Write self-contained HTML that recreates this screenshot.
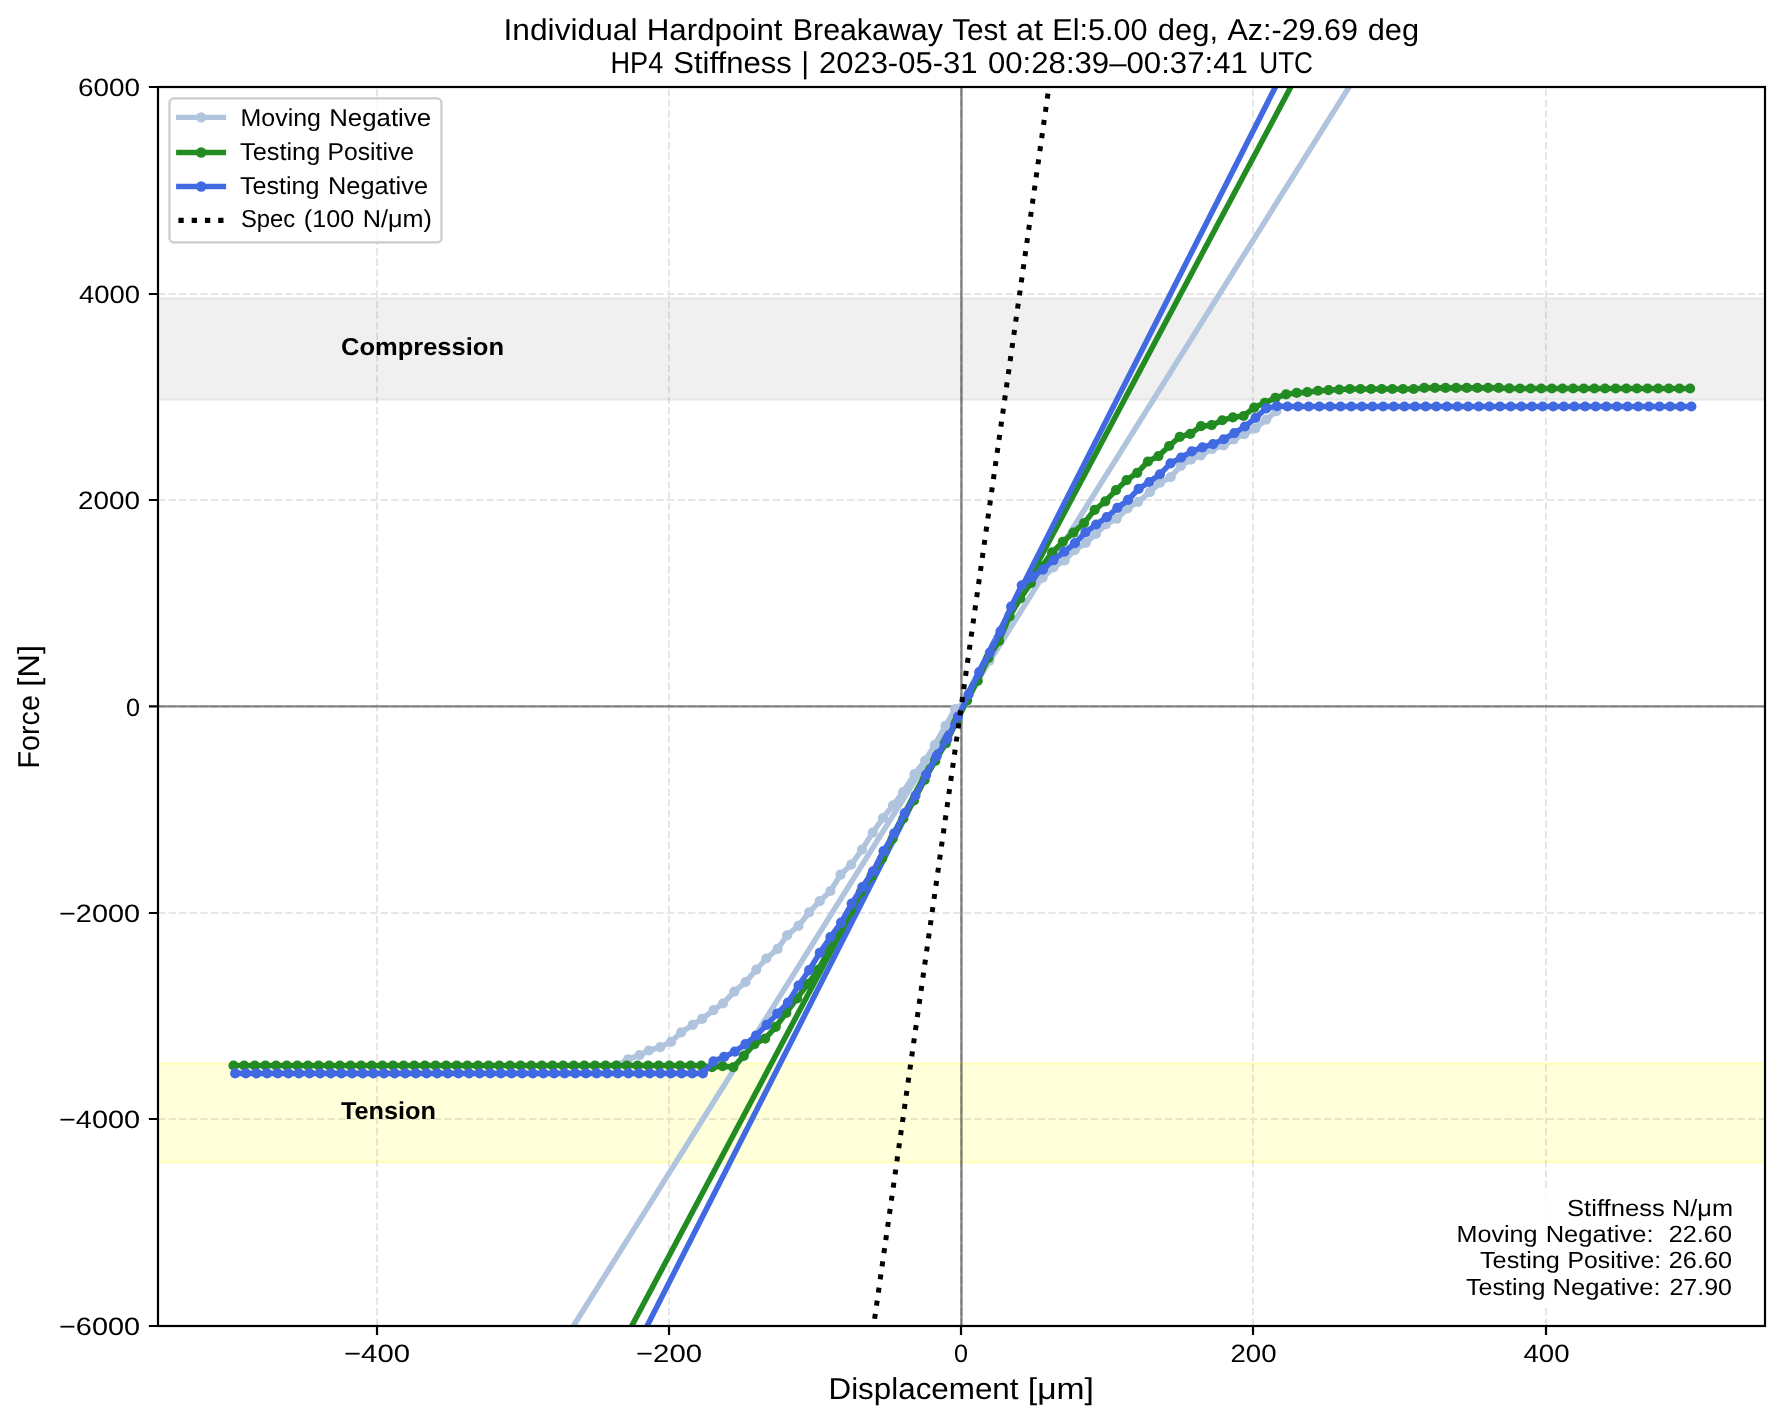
<!DOCTYPE html><html><head><meta charset="utf-8"><style>html,body{margin:0;padding:0;background:#fff;}svg{display:block;will-change:transform;}text{font-family:"Liberation Sans",sans-serif;fill:#000;white-space:pre;text-rendering:geometricPrecision;}</style></head><body>
<svg width="1782" height="1423" viewBox="0 0 1782 1423">
<rect x="0" y="0" width="1782" height="1423" fill="#fff"/>
<defs><clipPath id="ax"><rect x="158" y="87" width="1607" height="1239"/></clipPath></defs>
<g clip-path="url(#ax)">
<rect x="158" y="297.4" width="1607" height="103" fill="#f0f0f0"/>
<rect x="158" y="297.8" width="1607" height="2" fill="#e7e7e7"/>
<rect x="158" y="398.2" width="1607" height="2.2" fill="#e7e7e7"/>
<rect x="158" y="1062.2" width="1607" height="101.2" fill="#ffffd9"/>
<rect x="158" y="1062.6" width="1607" height="2.2" fill="#ffffbc"/>
<rect x="158" y="1160.8" width="1607" height="2.4" fill="#ffffbc"/>
<path d="M377 1326V87 M669 1326V87 M961 1326V87 M1253 1326V87 M1546 1326V87 M158 1326H1765 M158 1119H1765 M158 913H1765 M158 706.4H1765 M158 500H1765 M158 294H1765 M158 87H1765" fill="none" stroke="#808080" stroke-opacity="0.2" stroke-width="2" stroke-dasharray="7.4 3.2"/>
<path d="M158 706.4H1765M961.45 87V1326" fill="none" stroke="#000" stroke-opacity="0.47" stroke-width="2.4"/>
<path d="M560.47 1346.65L1362.03 66.35" fill="none" stroke="#b0c4de" stroke-width="5.56"/>
<path d="M620.74 1346.65L1301.76 66.35" fill="none" stroke="#228b22" stroke-width="5.56"/>
<path d="M636.61 1346.65L1285.89 66.35" fill="none" stroke="#4169e1" stroke-width="5.56"/>
<polyline points="617.4,1065.5 628,1059.3 639.5,1055.2 648.9,1050.5 660.3,1047.1 671.1,1041.8 681.2,1032.3 692.7,1024.9 702.1,1018.9 713.5,1010.1 723,1003.5 734.3,991.7 745.5,982.1 756.2,969.7 766.3,958.5 777.6,948.9 787.1,935.4 798.4,925.9 809.1,912.4 819.7,901.2 830.4,891 840.5,874.7 851.2,864.6 862,849.6 872.7,832.7 883,818 893,805.3 903.1,792.1 914.5,774.2 925.2,760.5 934.8,744.9 945.5,725.8 955.1,709.1 966,702.16 976.6,681.25 989.4,660.7 997.8,640.87 1009,615.7 1020,594.83 1031,581.51 1042.6,577.7 1053.3,567.5 1064.7,560.3 1074.7,550.2 1085.7,542.9 1095.9,533.9 1106,524.3 1116.7,518.7 1127.4,508.5 1138.1,501.8 1149.9,492.2 1160,482.7 1170.7,477.1 1180.8,465.8 1190.9,459.6 1200.9,455.3 1212.2,448.8 1223.6,445.5 1233.8,439.3 1244.3,434.2 1255.3,428.4 1266.2,419.6 1276.4,411.2" fill="none" stroke="#b0c4de" stroke-width="5.56" stroke-linejoin="round"/>
<g fill="#b0c4de"><circle cx="617.4" cy="1065.5" r="5.1"/><circle cx="628" cy="1059.3" r="5.1"/><circle cx="639.5" cy="1055.2" r="5.1"/><circle cx="648.9" cy="1050.5" r="5.1"/><circle cx="660.3" cy="1047.1" r="5.1"/><circle cx="671.1" cy="1041.8" r="5.1"/><circle cx="681.2" cy="1032.3" r="5.1"/><circle cx="692.7" cy="1024.9" r="5.1"/><circle cx="702.1" cy="1018.9" r="5.1"/><circle cx="713.5" cy="1010.1" r="5.1"/><circle cx="723" cy="1003.5" r="5.1"/><circle cx="734.3" cy="991.7" r="5.1"/><circle cx="745.5" cy="982.1" r="5.1"/><circle cx="756.2" cy="969.7" r="5.1"/><circle cx="766.3" cy="958.5" r="5.1"/><circle cx="777.6" cy="948.9" r="5.1"/><circle cx="787.1" cy="935.4" r="5.1"/><circle cx="798.4" cy="925.9" r="5.1"/><circle cx="809.1" cy="912.4" r="5.1"/><circle cx="819.7" cy="901.2" r="5.1"/><circle cx="830.4" cy="891" r="5.1"/><circle cx="840.5" cy="874.7" r="5.1"/><circle cx="851.2" cy="864.6" r="5.1"/><circle cx="862" cy="849.6" r="5.1"/><circle cx="872.7" cy="832.7" r="5.1"/><circle cx="883" cy="818" r="5.1"/><circle cx="893" cy="805.3" r="5.1"/><circle cx="903.1" cy="792.1" r="5.1"/><circle cx="914.5" cy="774.2" r="5.1"/><circle cx="925.2" cy="760.5" r="5.1"/><circle cx="934.8" cy="744.9" r="5.1"/><circle cx="945.5" cy="725.8" r="5.1"/><circle cx="955.1" cy="709.1" r="5.1"/><circle cx="966" cy="702.16" r="5.1"/><circle cx="976.6" cy="681.25" r="5.1"/><circle cx="989.4" cy="660.7" r="5.1"/><circle cx="997.8" cy="640.87" r="5.1"/><circle cx="1009" cy="615.7" r="5.1"/><circle cx="1020" cy="594.83" r="5.1"/><circle cx="1031" cy="581.51" r="5.1"/><circle cx="1042.6" cy="577.7" r="5.1"/><circle cx="1053.3" cy="567.5" r="5.1"/><circle cx="1064.7" cy="560.3" r="5.1"/><circle cx="1074.7" cy="550.2" r="5.1"/><circle cx="1085.7" cy="542.9" r="5.1"/><circle cx="1095.9" cy="533.9" r="5.1"/><circle cx="1106" cy="524.3" r="5.1"/><circle cx="1116.7" cy="518.7" r="5.1"/><circle cx="1127.4" cy="508.5" r="5.1"/><circle cx="1138.1" cy="501.8" r="5.1"/><circle cx="1149.9" cy="492.2" r="5.1"/><circle cx="1160" cy="482.7" r="5.1"/><circle cx="1170.7" cy="477.1" r="5.1"/><circle cx="1180.8" cy="465.8" r="5.1"/><circle cx="1190.9" cy="459.6" r="5.1"/><circle cx="1200.9" cy="455.3" r="5.1"/><circle cx="1212.2" cy="448.8" r="5.1"/><circle cx="1223.6" cy="445.5" r="5.1"/><circle cx="1233.8" cy="439.3" r="5.1"/><circle cx="1244.3" cy="434.2" r="5.1"/><circle cx="1255.3" cy="428.4" r="5.1"/><circle cx="1266.2" cy="419.6" r="5.1"/><circle cx="1276.4" cy="411.2" r="5.1"/></g>
<polyline points="233.5,1065.5 244.13,1065.5 254.76,1065.5 265.4,1065.5 276.03,1065.5 286.66,1065.5 297.29,1065.5 307.92,1065.5 318.56,1065.5 329.19,1065.5 339.82,1065.5 350.45,1065.5 361.08,1065.5 371.72,1065.5 382.35,1065.5 392.98,1065.5 403.61,1065.5 414.24,1065.5 424.88,1065.5 435.51,1065.5 446.14,1065.5 456.77,1065.5 467.4,1065.5 478.04,1065.5 488.67,1065.5 499.3,1065.5 509.93,1065.5 520.56,1065.5 531.2,1065.5 541.83,1065.5 552.46,1065.5 563.09,1065.5 573.72,1065.5 584.36,1065.5 594.99,1065.5 605.62,1065.5 616.25,1065.5 626.88,1065.5 637.52,1065.5 648.15,1065.5 658.78,1065.5 669.41,1065.5 680.04,1065.5 690.68,1065.5 701.31,1065.55 711.94,1067.26 722.57,1066.03 733.2,1067.24 743.84,1055.87 754.47,1044.1 765.1,1038.56 775.73,1026.8 786.36,1012.82 797,998.39 807.63,984.16 818.26,969.81 828.89,949.67 839.52,930.68 850.16,911.78 860.79,892.06 871.42,875.88 882.05,858.45 892.68,838.74 903.32,818.51 913.95,800.42 924.58,779.89 935.21,760.94 945.84,743.38 956.48,721.68 967.11,700.28 977.74,680.77 988.37,657.87 999,640.97 1009.64,616.33 1020.27,598.51 1030.9,583.09 1041.53,566.81 1052.16,552.44 1062.8,541.96 1073.43,532.68 1084.06,522.99 1094.69,509.81 1105.32,501.35 1115.96,490.19 1126.59,480.15 1137.22,472.8 1147.85,461.52 1158.48,456.03 1169.12,446 1179.75,436.91 1190.38,433.78 1201.01,426.14 1211.64,425.19 1222.28,420.25 1232.91,417.32 1243.54,416.01 1254.17,407.64 1264.8,402.83 1275.44,397.94 1286.07,394.29 1296.7,392.96 1307.33,392.2 1317.96,390.76 1328.6,390.17 1339.23,389.54 1349.86,389 1360.49,389 1371.12,389 1381.76,389 1392.39,389 1403.02,389 1413.65,389 1424.28,387.9 1434.92,387.9 1445.55,387.9 1456.18,387.9 1466.81,387.9 1477.44,387.9 1488.08,387.9 1498.71,387.9 1509.34,388.46 1519.97,388.5 1530.6,388.5 1541.24,388.5 1551.87,388.5 1562.5,388.5 1573.13,388.5 1583.76,388.5 1594.4,388.5 1605.03,388.5 1615.66,388.5 1626.29,388.5 1636.92,388.5 1647.56,388.5 1658.19,388.5 1668.82,388.5 1679.45,388.5 1690.08,388.5" fill="none" stroke="#228b22" stroke-width="5.56" stroke-linejoin="round"/>
<g fill="#228b22"><circle cx="233.5" cy="1065.5" r="5.1"/><circle cx="244.13" cy="1065.5" r="5.1"/><circle cx="254.76" cy="1065.5" r="5.1"/><circle cx="265.4" cy="1065.5" r="5.1"/><circle cx="276.03" cy="1065.5" r="5.1"/><circle cx="286.66" cy="1065.5" r="5.1"/><circle cx="297.29" cy="1065.5" r="5.1"/><circle cx="307.92" cy="1065.5" r="5.1"/><circle cx="318.56" cy="1065.5" r="5.1"/><circle cx="329.19" cy="1065.5" r="5.1"/><circle cx="339.82" cy="1065.5" r="5.1"/><circle cx="350.45" cy="1065.5" r="5.1"/><circle cx="361.08" cy="1065.5" r="5.1"/><circle cx="371.72" cy="1065.5" r="5.1"/><circle cx="382.35" cy="1065.5" r="5.1"/><circle cx="392.98" cy="1065.5" r="5.1"/><circle cx="403.61" cy="1065.5" r="5.1"/><circle cx="414.24" cy="1065.5" r="5.1"/><circle cx="424.88" cy="1065.5" r="5.1"/><circle cx="435.51" cy="1065.5" r="5.1"/><circle cx="446.14" cy="1065.5" r="5.1"/><circle cx="456.77" cy="1065.5" r="5.1"/><circle cx="467.4" cy="1065.5" r="5.1"/><circle cx="478.04" cy="1065.5" r="5.1"/><circle cx="488.67" cy="1065.5" r="5.1"/><circle cx="499.3" cy="1065.5" r="5.1"/><circle cx="509.93" cy="1065.5" r="5.1"/><circle cx="520.56" cy="1065.5" r="5.1"/><circle cx="531.2" cy="1065.5" r="5.1"/><circle cx="541.83" cy="1065.5" r="5.1"/><circle cx="552.46" cy="1065.5" r="5.1"/><circle cx="563.09" cy="1065.5" r="5.1"/><circle cx="573.72" cy="1065.5" r="5.1"/><circle cx="584.36" cy="1065.5" r="5.1"/><circle cx="594.99" cy="1065.5" r="5.1"/><circle cx="605.62" cy="1065.5" r="5.1"/><circle cx="616.25" cy="1065.5" r="5.1"/><circle cx="626.88" cy="1065.5" r="5.1"/><circle cx="637.52" cy="1065.5" r="5.1"/><circle cx="648.15" cy="1065.5" r="5.1"/><circle cx="658.78" cy="1065.5" r="5.1"/><circle cx="669.41" cy="1065.5" r="5.1"/><circle cx="680.04" cy="1065.5" r="5.1"/><circle cx="690.68" cy="1065.5" r="5.1"/><circle cx="701.31" cy="1065.55" r="5.1"/><circle cx="711.94" cy="1067.26" r="5.1"/><circle cx="722.57" cy="1066.03" r="5.1"/><circle cx="733.2" cy="1067.24" r="5.1"/><circle cx="743.84" cy="1055.87" r="5.1"/><circle cx="754.47" cy="1044.1" r="5.1"/><circle cx="765.1" cy="1038.56" r="5.1"/><circle cx="775.73" cy="1026.8" r="5.1"/><circle cx="786.36" cy="1012.82" r="5.1"/><circle cx="797" cy="998.39" r="5.1"/><circle cx="807.63" cy="984.16" r="5.1"/><circle cx="818.26" cy="969.81" r="5.1"/><circle cx="828.89" cy="949.67" r="5.1"/><circle cx="839.52" cy="930.68" r="5.1"/><circle cx="850.16" cy="911.78" r="5.1"/><circle cx="860.79" cy="892.06" r="5.1"/><circle cx="871.42" cy="875.88" r="5.1"/><circle cx="882.05" cy="858.45" r="5.1"/><circle cx="892.68" cy="838.74" r="5.1"/><circle cx="903.32" cy="818.51" r="5.1"/><circle cx="913.95" cy="800.42" r="5.1"/><circle cx="924.58" cy="779.89" r="5.1"/><circle cx="935.21" cy="760.94" r="5.1"/><circle cx="945.84" cy="743.38" r="5.1"/><circle cx="956.48" cy="721.68" r="5.1"/><circle cx="967.11" cy="700.28" r="5.1"/><circle cx="977.74" cy="680.77" r="5.1"/><circle cx="988.37" cy="657.87" r="5.1"/><circle cx="999" cy="640.97" r="5.1"/><circle cx="1009.64" cy="616.33" r="5.1"/><circle cx="1020.27" cy="598.51" r="5.1"/><circle cx="1030.9" cy="583.09" r="5.1"/><circle cx="1041.53" cy="566.81" r="5.1"/><circle cx="1052.16" cy="552.44" r="5.1"/><circle cx="1062.8" cy="541.96" r="5.1"/><circle cx="1073.43" cy="532.68" r="5.1"/><circle cx="1084.06" cy="522.99" r="5.1"/><circle cx="1094.69" cy="509.81" r="5.1"/><circle cx="1105.32" cy="501.35" r="5.1"/><circle cx="1115.96" cy="490.19" r="5.1"/><circle cx="1126.59" cy="480.15" r="5.1"/><circle cx="1137.22" cy="472.8" r="5.1"/><circle cx="1147.85" cy="461.52" r="5.1"/><circle cx="1158.48" cy="456.03" r="5.1"/><circle cx="1169.12" cy="446" r="5.1"/><circle cx="1179.75" cy="436.91" r="5.1"/><circle cx="1190.38" cy="433.78" r="5.1"/><circle cx="1201.01" cy="426.14" r="5.1"/><circle cx="1211.64" cy="425.19" r="5.1"/><circle cx="1222.28" cy="420.25" r="5.1"/><circle cx="1232.91" cy="417.32" r="5.1"/><circle cx="1243.54" cy="416.01" r="5.1"/><circle cx="1254.17" cy="407.64" r="5.1"/><circle cx="1264.8" cy="402.83" r="5.1"/><circle cx="1275.44" cy="397.94" r="5.1"/><circle cx="1286.07" cy="394.29" r="5.1"/><circle cx="1296.7" cy="392.96" r="5.1"/><circle cx="1307.33" cy="392.2" r="5.1"/><circle cx="1317.96" cy="390.76" r="5.1"/><circle cx="1328.6" cy="390.17" r="5.1"/><circle cx="1339.23" cy="389.54" r="5.1"/><circle cx="1349.86" cy="389" r="5.1"/><circle cx="1360.49" cy="389" r="5.1"/><circle cx="1371.12" cy="389" r="5.1"/><circle cx="1381.76" cy="389" r="5.1"/><circle cx="1392.39" cy="389" r="5.1"/><circle cx="1403.02" cy="389" r="5.1"/><circle cx="1413.65" cy="389" r="5.1"/><circle cx="1424.28" cy="387.9" r="5.1"/><circle cx="1434.92" cy="387.9" r="5.1"/><circle cx="1445.55" cy="387.9" r="5.1"/><circle cx="1456.18" cy="387.9" r="5.1"/><circle cx="1466.81" cy="387.9" r="5.1"/><circle cx="1477.44" cy="387.9" r="5.1"/><circle cx="1488.08" cy="387.9" r="5.1"/><circle cx="1498.71" cy="387.9" r="5.1"/><circle cx="1509.34" cy="388.46" r="5.1"/><circle cx="1519.97" cy="388.5" r="5.1"/><circle cx="1530.6" cy="388.5" r="5.1"/><circle cx="1541.24" cy="388.5" r="5.1"/><circle cx="1551.87" cy="388.5" r="5.1"/><circle cx="1562.5" cy="388.5" r="5.1"/><circle cx="1573.13" cy="388.5" r="5.1"/><circle cx="1583.76" cy="388.5" r="5.1"/><circle cx="1594.4" cy="388.5" r="5.1"/><circle cx="1605.03" cy="388.5" r="5.1"/><circle cx="1615.66" cy="388.5" r="5.1"/><circle cx="1626.29" cy="388.5" r="5.1"/><circle cx="1636.92" cy="388.5" r="5.1"/><circle cx="1647.56" cy="388.5" r="5.1"/><circle cx="1658.19" cy="388.5" r="5.1"/><circle cx="1668.82" cy="388.5" r="5.1"/><circle cx="1679.45" cy="388.5" r="5.1"/><circle cx="1690.08" cy="388.5" r="5.1"/></g>
<polyline points="235.2,1073.4 245.83,1073.4 256.46,1073.4 267.09,1073.4 277.72,1073.4 288.34,1073.4 298.97,1073.4 309.6,1073.4 320.23,1073.4 330.86,1073.4 341.49,1073.4 352.12,1073.4 362.75,1073.4 373.38,1073.4 384.01,1073.4 394.63,1073.4 405.26,1073.4 415.89,1073.4 426.52,1073.4 437.15,1073.4 447.78,1073.4 458.41,1073.4 469.04,1073.4 479.67,1073.4 490.3,1073.4 500.92,1073.4 511.55,1073.4 522.18,1073.4 532.81,1073.4 543.44,1073.4 554.07,1073.4 564.7,1073.4 575.33,1073.4 585.96,1073.4 596.59,1073.4 607.21,1073.4 617.84,1073.4 628.47,1073.4 639.1,1073.4 649.73,1073.4 660.36,1073.4 670.99,1073.4 681.62,1073.4 692.25,1073.4 702.88,1073.4 713.5,1061.3 724.13,1056.94 734.76,1051.64 745.39,1044.16 756.02,1035.68 766.65,1024.95 777.28,1013.61 787.91,1002.7 798.54,985.54 809.17,970.19 819.8,952.76 830.42,937.07 841.05,922.56 851.68,903.61 862.31,887.09 872.94,871.33 883.57,851.16 894.2,833.36 904.83,813.14 915.46,795.6 926.09,774.9 936.71,756.12 947.34,738.91 957.97,716.63 968.6,694.4 979.23,672.15 989.86,652.56 1000.49,631.43 1011.12,606.63 1021.75,585.26 1032.38,577.02 1043,569.54 1053.63,560.04 1064.26,551.74 1074.89,543.21 1085.52,532.38 1096.15,524.49 1106.78,517.22 1117.41,507.85 1128.04,499.96 1138.66,488.86 1149.29,481.99 1159.92,474.26 1170.55,463.35 1181.18,457.52 1191.81,451.38 1202.44,447.33 1213.07,444.07 1223.7,439.24 1234.33,433.2 1244.95,426.48 1255.58,417.84 1266.21,408.3 1276.84,406.12 1287.47,406.5 1298.1,406.5 1308.73,406.5 1319.36,406.5 1329.99,406.5 1340.62,406.5 1351.24,406.5 1361.87,406.5 1372.5,406.5 1383.13,406.5 1393.76,406.5 1404.39,406.5 1415.02,406.5 1425.65,406.5 1436.28,406.5 1446.91,406.5 1457.54,406.5 1468.16,406.5 1478.79,406.5 1489.42,406.5 1500.05,406.5 1510.68,406.5 1521.31,406.5 1531.94,406.5 1542.57,406.5 1553.2,406.5 1563.83,406.5 1574.45,406.5 1585.08,406.5 1595.71,406.5 1606.34,406.5 1616.97,406.5 1627.6,406.5 1638.23,406.5 1648.86,406.5 1659.49,406.5 1670.12,406.5 1680.74,406.5 1691.37,406.5" fill="none" stroke="#4169e1" stroke-width="5.56" stroke-linejoin="round"/>
<g fill="#4169e1"><circle cx="235.2" cy="1073.4" r="5.1"/><circle cx="245.83" cy="1073.4" r="5.1"/><circle cx="256.46" cy="1073.4" r="5.1"/><circle cx="267.09" cy="1073.4" r="5.1"/><circle cx="277.72" cy="1073.4" r="5.1"/><circle cx="288.34" cy="1073.4" r="5.1"/><circle cx="298.97" cy="1073.4" r="5.1"/><circle cx="309.6" cy="1073.4" r="5.1"/><circle cx="320.23" cy="1073.4" r="5.1"/><circle cx="330.86" cy="1073.4" r="5.1"/><circle cx="341.49" cy="1073.4" r="5.1"/><circle cx="352.12" cy="1073.4" r="5.1"/><circle cx="362.75" cy="1073.4" r="5.1"/><circle cx="373.38" cy="1073.4" r="5.1"/><circle cx="384.01" cy="1073.4" r="5.1"/><circle cx="394.63" cy="1073.4" r="5.1"/><circle cx="405.26" cy="1073.4" r="5.1"/><circle cx="415.89" cy="1073.4" r="5.1"/><circle cx="426.52" cy="1073.4" r="5.1"/><circle cx="437.15" cy="1073.4" r="5.1"/><circle cx="447.78" cy="1073.4" r="5.1"/><circle cx="458.41" cy="1073.4" r="5.1"/><circle cx="469.04" cy="1073.4" r="5.1"/><circle cx="479.67" cy="1073.4" r="5.1"/><circle cx="490.3" cy="1073.4" r="5.1"/><circle cx="500.92" cy="1073.4" r="5.1"/><circle cx="511.55" cy="1073.4" r="5.1"/><circle cx="522.18" cy="1073.4" r="5.1"/><circle cx="532.81" cy="1073.4" r="5.1"/><circle cx="543.44" cy="1073.4" r="5.1"/><circle cx="554.07" cy="1073.4" r="5.1"/><circle cx="564.7" cy="1073.4" r="5.1"/><circle cx="575.33" cy="1073.4" r="5.1"/><circle cx="585.96" cy="1073.4" r="5.1"/><circle cx="596.59" cy="1073.4" r="5.1"/><circle cx="607.21" cy="1073.4" r="5.1"/><circle cx="617.84" cy="1073.4" r="5.1"/><circle cx="628.47" cy="1073.4" r="5.1"/><circle cx="639.1" cy="1073.4" r="5.1"/><circle cx="649.73" cy="1073.4" r="5.1"/><circle cx="660.36" cy="1073.4" r="5.1"/><circle cx="670.99" cy="1073.4" r="5.1"/><circle cx="681.62" cy="1073.4" r="5.1"/><circle cx="692.25" cy="1073.4" r="5.1"/><circle cx="702.88" cy="1073.4" r="5.1"/><circle cx="713.5" cy="1061.3" r="5.1"/><circle cx="724.13" cy="1056.94" r="5.1"/><circle cx="734.76" cy="1051.64" r="5.1"/><circle cx="745.39" cy="1044.16" r="5.1"/><circle cx="756.02" cy="1035.68" r="5.1"/><circle cx="766.65" cy="1024.95" r="5.1"/><circle cx="777.28" cy="1013.61" r="5.1"/><circle cx="787.91" cy="1002.7" r="5.1"/><circle cx="798.54" cy="985.54" r="5.1"/><circle cx="809.17" cy="970.19" r="5.1"/><circle cx="819.8" cy="952.76" r="5.1"/><circle cx="830.42" cy="937.07" r="5.1"/><circle cx="841.05" cy="922.56" r="5.1"/><circle cx="851.68" cy="903.61" r="5.1"/><circle cx="862.31" cy="887.09" r="5.1"/><circle cx="872.94" cy="871.33" r="5.1"/><circle cx="883.57" cy="851.16" r="5.1"/><circle cx="894.2" cy="833.36" r="5.1"/><circle cx="904.83" cy="813.14" r="5.1"/><circle cx="915.46" cy="795.6" r="5.1"/><circle cx="926.09" cy="774.9" r="5.1"/><circle cx="936.71" cy="756.12" r="5.1"/><circle cx="947.34" cy="738.91" r="5.1"/><circle cx="957.97" cy="716.63" r="5.1"/><circle cx="968.6" cy="694.4" r="5.1"/><circle cx="979.23" cy="672.15" r="5.1"/><circle cx="989.86" cy="652.56" r="5.1"/><circle cx="1000.49" cy="631.43" r="5.1"/><circle cx="1011.12" cy="606.63" r="5.1"/><circle cx="1021.75" cy="585.26" r="5.1"/><circle cx="1032.38" cy="577.02" r="5.1"/><circle cx="1043" cy="569.54" r="5.1"/><circle cx="1053.63" cy="560.04" r="5.1"/><circle cx="1064.26" cy="551.74" r="5.1"/><circle cx="1074.89" cy="543.21" r="5.1"/><circle cx="1085.52" cy="532.38" r="5.1"/><circle cx="1096.15" cy="524.49" r="5.1"/><circle cx="1106.78" cy="517.22" r="5.1"/><circle cx="1117.41" cy="507.85" r="5.1"/><circle cx="1128.04" cy="499.96" r="5.1"/><circle cx="1138.66" cy="488.86" r="5.1"/><circle cx="1149.29" cy="481.99" r="5.1"/><circle cx="1159.92" cy="474.26" r="5.1"/><circle cx="1170.55" cy="463.35" r="5.1"/><circle cx="1181.18" cy="457.52" r="5.1"/><circle cx="1191.81" cy="451.38" r="5.1"/><circle cx="1202.44" cy="447.33" r="5.1"/><circle cx="1213.07" cy="444.07" r="5.1"/><circle cx="1223.7" cy="439.24" r="5.1"/><circle cx="1234.33" cy="433.2" r="5.1"/><circle cx="1244.95" cy="426.48" r="5.1"/><circle cx="1255.58" cy="417.84" r="5.1"/><circle cx="1266.21" cy="408.3" r="5.1"/><circle cx="1276.84" cy="406.12" r="5.1"/><circle cx="1287.47" cy="406.5" r="5.1"/><circle cx="1298.1" cy="406.5" r="5.1"/><circle cx="1308.73" cy="406.5" r="5.1"/><circle cx="1319.36" cy="406.5" r="5.1"/><circle cx="1329.99" cy="406.5" r="5.1"/><circle cx="1340.62" cy="406.5" r="5.1"/><circle cx="1351.24" cy="406.5" r="5.1"/><circle cx="1361.87" cy="406.5" r="5.1"/><circle cx="1372.5" cy="406.5" r="5.1"/><circle cx="1383.13" cy="406.5" r="5.1"/><circle cx="1393.76" cy="406.5" r="5.1"/><circle cx="1404.39" cy="406.5" r="5.1"/><circle cx="1415.02" cy="406.5" r="5.1"/><circle cx="1425.65" cy="406.5" r="5.1"/><circle cx="1436.28" cy="406.5" r="5.1"/><circle cx="1446.91" cy="406.5" r="5.1"/><circle cx="1457.54" cy="406.5" r="5.1"/><circle cx="1468.16" cy="406.5" r="5.1"/><circle cx="1478.79" cy="406.5" r="5.1"/><circle cx="1489.42" cy="406.5" r="5.1"/><circle cx="1500.05" cy="406.5" r="5.1"/><circle cx="1510.68" cy="406.5" r="5.1"/><circle cx="1521.31" cy="406.5" r="5.1"/><circle cx="1531.94" cy="406.5" r="5.1"/><circle cx="1542.57" cy="406.5" r="5.1"/><circle cx="1553.2" cy="406.5" r="5.1"/><circle cx="1563.83" cy="406.5" r="5.1"/><circle cx="1574.45" cy="406.5" r="5.1"/><circle cx="1585.08" cy="406.5" r="5.1"/><circle cx="1595.71" cy="406.5" r="5.1"/><circle cx="1606.34" cy="406.5" r="5.1"/><circle cx="1616.97" cy="406.5" r="5.1"/><circle cx="1627.6" cy="406.5" r="5.1"/><circle cx="1638.23" cy="406.5" r="5.1"/><circle cx="1648.86" cy="406.5" r="5.1"/><circle cx="1659.49" cy="406.5" r="5.1"/><circle cx="1670.12" cy="406.5" r="5.1"/><circle cx="1680.74" cy="406.5" r="5.1"/><circle cx="1691.37" cy="406.5" r="5.1"/></g>
<path d="M873.6 1326L1048.9 87" fill="none" stroke="#000" stroke-width="5" stroke-dasharray="5 8.25" stroke-dashoffset="5.95"/>
</g>
<rect x="1451" y="1188" width="287" height="120" rx="7" ry="7" fill="#fff" fill-opacity="0.85"/>
<rect x="158" y="87" width="1607" height="1239" fill="none" stroke="#000" stroke-width="2.2" stroke-linejoin="miter"/>
<path d="M377 1326v8.9 M669 1326v8.9 M961 1326v8.9 M1253 1326v8.9 M1546 1326v8.9 M158 1326h-9.1 M158 1119h-9.1 M158 913h-9.1 M158 706.4h-9.1 M158 500h-9.1 M158 294h-9.1 M158 87h-9.1" stroke="#000" stroke-width="2.2" fill="none"/>
<rect x="169.5" y="98.4" width="272" height="144" rx="4.5" ry="4.5" fill="#fff" fill-opacity="0.8" stroke="#cccccc" stroke-width="2.3"/>
<path d="M176.1 117.4H226.1" stroke="#b0c4de" stroke-width="5.3" fill="none"/>
<circle cx="201.2" cy="117.4" r="5.2" fill="#b0c4de"/>
<path d="M176.1 152.5H226.1" stroke="#228b22" stroke-width="5.3" fill="none"/>
<circle cx="201.2" cy="152.5" r="5.2" fill="#228b22"/>
<path d="M176.1 186.5H226.1" stroke="#4169e1" stroke-width="5.3" fill="none"/>
<circle cx="201.2" cy="186.5" r="5.2" fill="#4169e1"/>
<path d="M176.1 220.3H226.1" stroke="#000" stroke-width="5.2" stroke-dasharray="5.3 7.97" stroke-dashoffset="-2.3" fill="none"/>
<g>
<text x="503.49" y="39.6" font-size="30.2" textLength="134.07" lengthAdjust="spacingAndGlyphs">Individual</text>
<text x="646.72" y="39.6" font-size="30.2" textLength="135.84" lengthAdjust="spacingAndGlyphs">Hardpoint</text>
<text x="792.84" y="39.6" font-size="30.2" textLength="149.98" lengthAdjust="spacingAndGlyphs">Breakaway</text>
<text x="952.24" y="39.6" font-size="30.2" textLength="54.42" lengthAdjust="spacingAndGlyphs">Test</text>
<text x="1016.01" y="39.6" font-size="30.2" textLength="27.05" lengthAdjust="spacingAndGlyphs">at</text>
<text x="1052.34" y="39.6" font-size="30.2" textLength="95.24" lengthAdjust="spacingAndGlyphs">El:5.00</text>
<text x="1157.87" y="39.6" font-size="30.2" textLength="60.25" lengthAdjust="spacingAndGlyphs">deg,</text>
<text x="1227.43" y="39.6" font-size="30.2" textLength="130.55" lengthAdjust="spacingAndGlyphs">Az:-29.69</text>
<text x="1367.75" y="39.6" font-size="30.2" textLength="51.25" lengthAdjust="spacingAndGlyphs">deg</text>
<text x="610.48" y="72.8" font-size="30.2" textLength="52.75" lengthAdjust="spacingAndGlyphs">HP4</text>
<text x="673.31" y="72.8" font-size="30.2" textLength="118.43" lengthAdjust="spacingAndGlyphs">Stiffness</text>
<text x="805.24" y="72.8" font-size="30.2" text-anchor="middle">|</text>
<text x="818.97" y="72.8" font-size="30.2" textLength="158.44" lengthAdjust="spacingAndGlyphs">2023-05-31</text>
<text x="987.93" y="72.8" font-size="30.2" textLength="259.87" lengthAdjust="spacingAndGlyphs">00:28:39–00:37:41</text>
<text x="1259.25" y="72.8" font-size="30.2" textLength="53.75" lengthAdjust="spacingAndGlyphs">UTC</text>
<text x="828.5" y="1399.1" font-size="30.2" textLength="189.99" lengthAdjust="spacingAndGlyphs">Displacement</text>
<text x="1027.82" y="1399.1" font-size="30.2" textLength="66.18" lengthAdjust="spacingAndGlyphs">[μm]</text>
<text x="59" y="1335.3" font-size="25" textLength="81" lengthAdjust="spacingAndGlyphs">−6000</text>
<text x="59" y="1128.3" font-size="25" textLength="81" lengthAdjust="spacingAndGlyphs">−4000</text>
<text x="59" y="922.3" font-size="25" textLength="81" lengthAdjust="spacingAndGlyphs">−2000</text>
<text x="126" y="715.7" font-size="25" textLength="14" lengthAdjust="spacingAndGlyphs">0</text>
<text x="78" y="509.3" font-size="25" textLength="62" lengthAdjust="spacingAndGlyphs">2000</text>
<text x="79" y="303.3" font-size="25" textLength="61" lengthAdjust="spacingAndGlyphs">4000</text>
<text x="78" y="96.3" font-size="25" textLength="62" lengthAdjust="spacingAndGlyphs">6000</text>
<text x="344" y="1361.5" font-size="25" textLength="66" lengthAdjust="spacingAndGlyphs">−400</text>
<text x="636" y="1361.5" font-size="25" textLength="66" lengthAdjust="spacingAndGlyphs">−200</text>
<text x="954" y="1361.5" font-size="25" textLength="14" lengthAdjust="spacingAndGlyphs">0</text>
<text x="1230.5" y="1361.5" font-size="25" textLength="46" lengthAdjust="spacingAndGlyphs">200</text>
<text x="1523.5" y="1361.5" font-size="25" textLength="46" lengthAdjust="spacingAndGlyphs">400</text>
<text x="240.49" y="126" font-size="24.5" textLength="80.47" lengthAdjust="spacingAndGlyphs">Moving</text>
<text x="329.25" y="126" font-size="24.5" textLength="101.75" lengthAdjust="spacingAndGlyphs">Negative</text>
<text x="240" y="159.9" font-size="24.5" textLength="80.24" lengthAdjust="spacingAndGlyphs">Testing</text>
<text x="327.61" y="159.9" font-size="24.5" textLength="86.39" lengthAdjust="spacingAndGlyphs">Positive</text>
<text x="240" y="193.6" font-size="24.5" textLength="79.5" lengthAdjust="spacingAndGlyphs">Testing</text>
<text x="328.09" y="193.6" font-size="24.5" textLength="99.91" lengthAdjust="spacingAndGlyphs">Negative</text>
<text x="241" y="227.3" font-size="24.5" textLength="54.19" lengthAdjust="spacingAndGlyphs">Spec</text>
<text x="303.81" y="227.3" font-size="24.5" textLength="50.33" lengthAdjust="spacingAndGlyphs">(100</text>
<text x="362.76" y="227.3" font-size="24.5" textLength="69.24" lengthAdjust="spacingAndGlyphs">N/μm)</text>
<text x="341" y="355.2" font-size="24.4" font-weight="bold" textLength="163" lengthAdjust="spacingAndGlyphs">Compression</text>
<text x="341" y="1119" font-size="24.4" font-weight="bold" textLength="95" lengthAdjust="spacingAndGlyphs">Tension</text>
<text x="1567" y="1215.7" font-size="23.4" textLength="97.75" lengthAdjust="spacingAndGlyphs">Stiffness</text>
<text x="1672.05" y="1215.7" font-size="23.4" textLength="60.95" lengthAdjust="spacingAndGlyphs">N/μm</text>
<text x="1456.48" y="1242.2" font-size="23.4" textLength="81.08" lengthAdjust="spacingAndGlyphs">Moving</text>
<text x="1545.65" y="1242.2" font-size="23.4" textLength="108.02" lengthAdjust="spacingAndGlyphs">Negative:</text>
<text x="1668.7" y="1242.2" font-size="23.4" textLength="63.3" lengthAdjust="spacingAndGlyphs">22.60</text>
<text x="1480" y="1268.3" font-size="23.4" textLength="79.9" lengthAdjust="spacingAndGlyphs">Testing</text>
<text x="1567.62" y="1268.3" font-size="23.4" textLength="93.51" lengthAdjust="spacingAndGlyphs">Positive:</text>
<text x="1668.81" y="1268.3" font-size="23.4" textLength="63.19" lengthAdjust="spacingAndGlyphs">26.60</text>
<text x="1466" y="1294.9" font-size="23.4" textLength="79.36" lengthAdjust="spacingAndGlyphs">Testing</text>
<text x="1552.63" y="1294.9" font-size="23.4" textLength="108.06" lengthAdjust="spacingAndGlyphs">Negative:</text>
<text x="1669.44" y="1294.9" font-size="23.4" textLength="62.56" lengthAdjust="spacingAndGlyphs">27.90</text>
<text transform="rotate(-90)" x="-768.52" y="39" font-size="30.2" textLength="73.37" lengthAdjust="spacingAndGlyphs">Force</text>
<text transform="rotate(-90)" x="-686.75" y="39" font-size="30.2" textLength="41.75" lengthAdjust="spacingAndGlyphs">[N]</text>
</g>
</svg></body></html>
